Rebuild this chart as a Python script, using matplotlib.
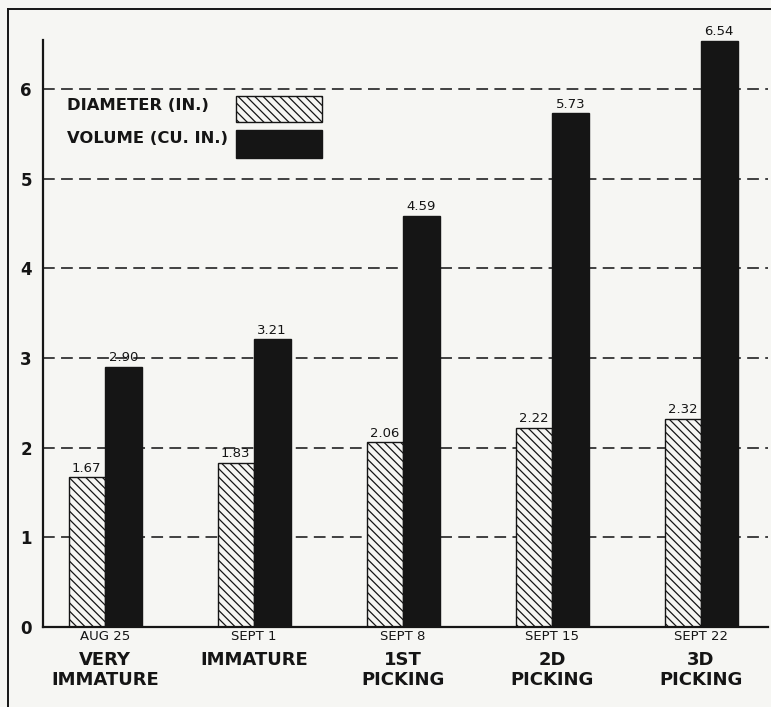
import matplotlib.pyplot as plt
import matplotlib.patches as mpatches
from matplotlib.lines import Line2D
import numpy as np

# Fruit size by picking date
dates = ["AUG 25", "SEPT 1", "SEPT 8", "SEPT 15", "SEPT 22"]
stages = ["VERY\nIMMATURE", "IMMATURE", "1ST\nPICKING", "2D\nPICKING", "3D\nPICKING"]
diameter = [1.67, 1.83, 2.06, 2.22, 2.32]
volume = [2.90, 3.21, 4.59, 5.73, 6.54]

INK = "#151515"
PAPER = "#f6f6f3"

plt.rcParams["hatch.linewidth"] = 0.9
plt.rcParams["hatch.color"] = INK

fig = plt.figure(figsize=(7.71, 7.07), dpi=100, facecolor=PAPER)
ax = fig.add_axes([0.0558, 0.1132, 0.9404, 0.8303])
ax.set_facecolor("none")

x = np.arange(len(dates))
w = 0.245

# dashed reference lines behind the bars
for yv in range(1, 7):
    ax.axhline(yv, color="#333333", lw=1.3, ls=(0, (6.5, 3.5)), zorder=0)

ax.bar(x - w / 2, diameter, width=w, facecolor=PAPER, edgecolor=INK,
       hatch="\\\\\\\\", linewidth=1.0, zorder=2)
ax.bar(x + w / 2, volume, width=w, color=INK, edgecolor=INK,
       linewidth=1.0, zorder=2)

for xi, d, v in zip(x, diameter, volume):
    ax.text(xi - w / 2, d + 0.03, f"{d:.2f}", ha="center", va="bottom",
            fontsize=9.5, color=INK)
    ax.text(xi + w / 2, v + 0.03, f"{v:.2f}", ha="center", va="bottom",
            fontsize=9.5, color=INK)

ax.set_xlim(-0.416, 4.45)
ax.set_ylim(0, 6.55)

for s in ["top", "right"]:
    ax.spines[s].set_visible(False)
ax.spines["left"].set_linewidth(1.6)
ax.spines["bottom"].set_linewidth(1.6)
ax.spines["left"].set_color(INK)
ax.spines["bottom"].set_color(INK)

ax.set_yticks(range(0, 7))
ax.set_yticklabels([str(i) for i in range(0, 7)], fontsize=12,
                   fontweight="bold", color=INK)
ax.tick_params(axis="y", length=0, pad=8)
ax.set_xticks(x)
ax.set_xticklabels(dates, fontsize=9.5, color=INK)
ax.tick_params(axis="x", length=0, pad=2)

# stage names under the dates
for xi, st in zip(x, stages):
    ax.text(xi, -0.27, st, ha="center", va="top", fontsize=13,
            fontweight="bold", color=INK, linespacing=1.1)

# legend drawn as labelled swatches
ax.text(-0.255, 5.82, "DIAMETER (IN.)", fontsize=11.8, fontweight="bold",
        color=INK, va="center", ha="left")
ax.text(-0.255, 5.45, "VOLUME (CU. IN.)", fontsize=11.8, fontweight="bold",
        color=INK, va="center", ha="left")
ax.add_patch(mpatches.Rectangle((0.878, 5.63), 0.577, 0.30, facecolor=PAPER,
                                edgecolor=INK, hatch="\\\\\\\\", lw=1.0, zorder=3))
ax.add_patch(mpatches.Rectangle((0.878, 5.23), 0.577, 0.32, facecolor=INK,
                                edgecolor=INK, lw=1.0, zorder=3))

# outer border of the plate
fig.add_artist(Line2D([8 / 771, 8 / 771], [0, 1 - 9 / 707], color=INK, lw=1.4))
fig.add_artist(Line2D([8 / 771, 1], [1 - 9 / 707, 1 - 9 / 707], color=INK, lw=1.4))

fig.savefig("out.png", dpi=100, facecolor=PAPER)
